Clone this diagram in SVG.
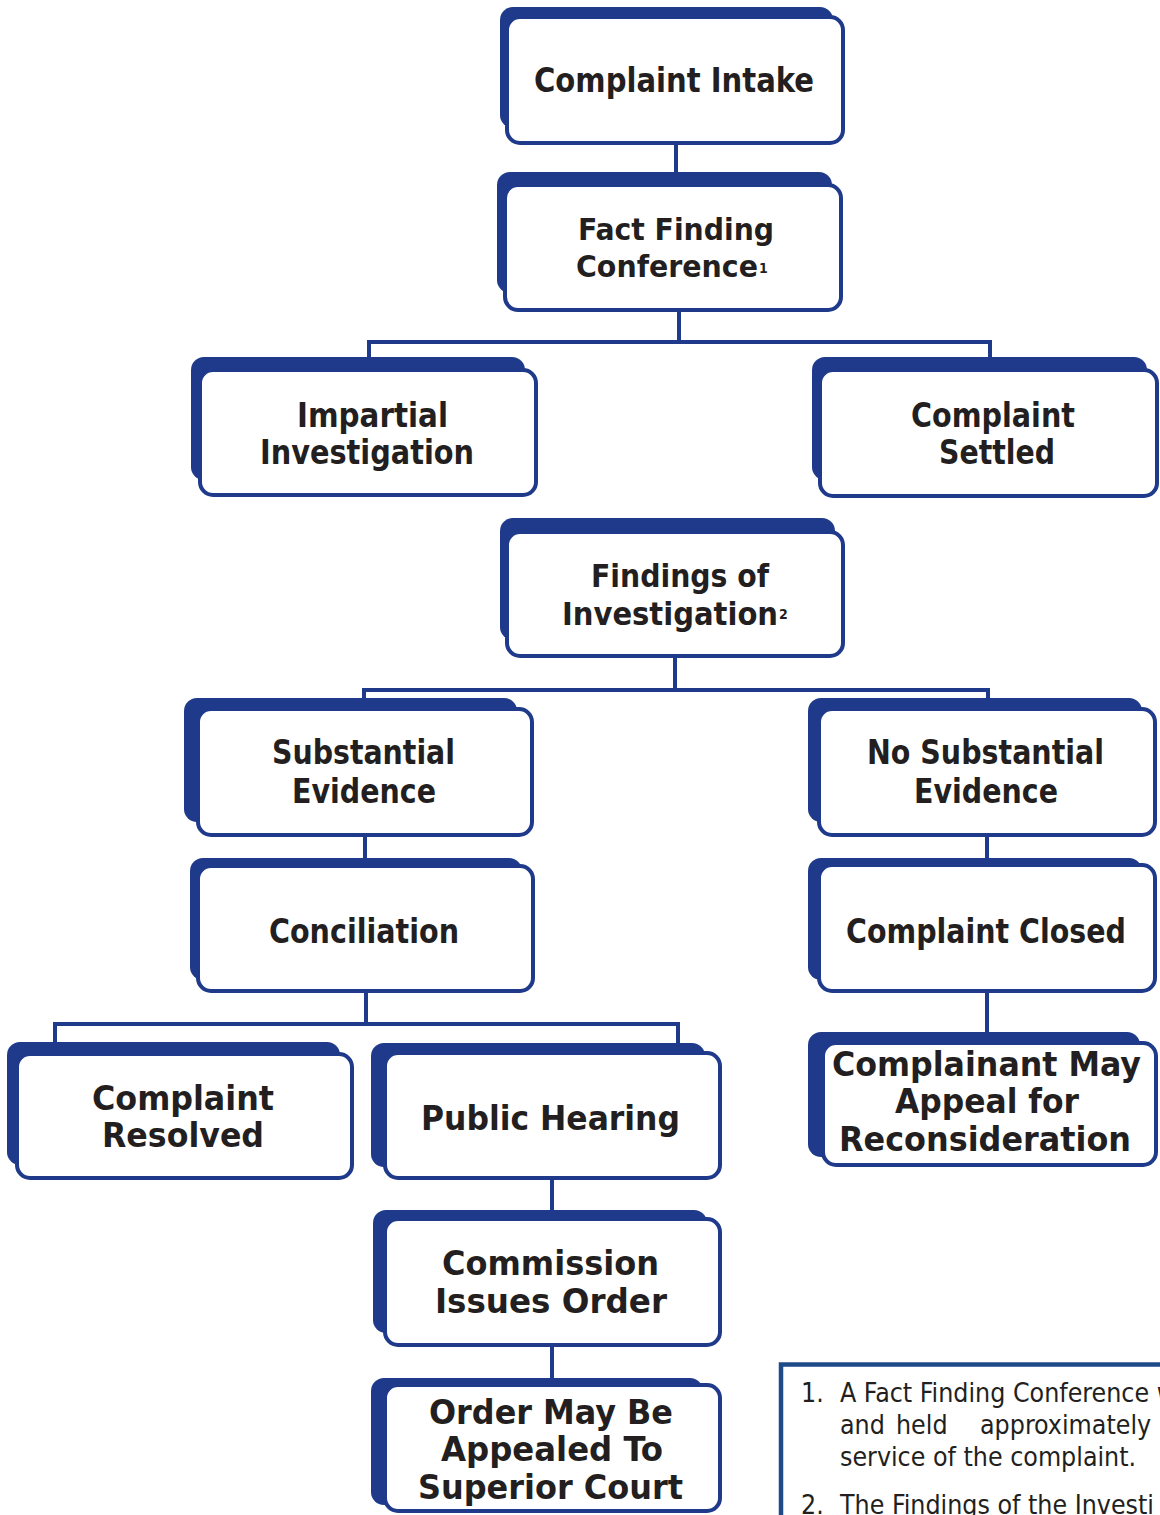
<svg xmlns="http://www.w3.org/2000/svg" width="1160" height="1515" viewBox="0 0 1160 1515">
<style>
.bk{fill:#1f3a8b}
.fr{fill:#fff;stroke:#1f3a8b;stroke-width:4}
.t{font-family:"DejaVu Sans Condensed","DejaVu Sans",sans-serif;font-weight:bold;font-size:33px;fill:#231f20}
.sup{font-family:"DejaVu Sans Condensed","DejaVu Sans",sans-serif;font-weight:bold;font-size:14px;fill:#231f20}
.c{fill:none;stroke:#1f3a8b;stroke-width:4}
.fn{font-family:"DejaVu Sans Condensed","DejaVu Sans",sans-serif;font-size:26.5px;fill:#231f20}
</style>
<rect width="1160" height="1515" fill="#fff"/>
<g id="connectors" class="c">
<path d="M676,143 V186"/>
<path d="M679,310 V342"/>
<path d="M369,362 V342 H990 V362"/>
<path d="M675,656 V690"/>
<path d="M364,702 V690 H988 V702"/>
<path d="M365,835 V866"/>
<path d="M987,835 V866"/>
<path d="M366,991 V1024"/>
<path d="M55,1046 V1024 H678 V1046"/>
<path d="M987,991 V1036"/>
<path d="M552,1178 V1220"/>
<path d="M552,1345 V1386"/>
</g>
<g id="complaint-intake">
<rect class="bk" x="500" y="7" width="333" height="121" rx="13"/>
<rect class="fr" x="507" y="17" width="336" height="126" rx="13"/>
<text class="t" x="534" y="92" textLength="280" lengthAdjust="spacingAndGlyphs">Complaint Intake</text>
</g>
<g id="fact-finding-conference">
<rect class="bk" x="497" y="172" width="335" height="121" rx="13"/>
<rect class="fr" x="505" y="185" width="336" height="125" rx="13"/>
<text class="t" style="font-size:31px" x="578" y="240" textLength="196" lengthAdjust="spacingAndGlyphs">Fact Finding</text>
<text class="t" style="font-size:31px" x="576" y="277" textLength="182" lengthAdjust="spacingAndGlyphs">Conference</text>
<text class="sup" x="759" y="273">1</text>
</g>
<g id="impartial-investigation">
<rect class="bk" x="191" y="357" width="334" height="123" rx="13"/>
<rect class="fr" x="200" y="370" width="336" height="125" rx="13"/>
<text class="t" x="297" y="427" textLength="151" lengthAdjust="spacingAndGlyphs">Impartial</text>
<text class="t" x="260" y="464" textLength="214" lengthAdjust="spacingAndGlyphs">Investigation</text>
</g>
<g id="complaint-settled">
<rect class="bk" x="812" y="357" width="335" height="123" rx="13"/>
<rect class="fr" x="820" y="370" width="337" height="126" rx="13"/>
<text class="t" x="911" y="427" textLength="164" lengthAdjust="spacingAndGlyphs">Complaint</text>
<text class="t" x="939" y="464" textLength="116" lengthAdjust="spacingAndGlyphs">Settled</text>
</g>
<g id="findings-of-investigation">
<rect class="bk" x="500" y="518" width="335" height="122" rx="13"/>
<rect class="fr" x="507" y="532" width="336" height="124" rx="13"/>
<text class="t" style="font-size:32px" x="591" y="587" textLength="178" lengthAdjust="spacingAndGlyphs">Findings of</text>
<text class="t" style="font-size:32px" x="562" y="625" textLength="216" lengthAdjust="spacingAndGlyphs">Investigation</text>
<text class="sup" x="779" y="619">2</text>
</g>
<g id="substantial-evidence">
<rect class="bk" x="184" y="698" width="333" height="124" rx="13"/>
<rect class="fr" x="198" y="709" width="334" height="126" rx="13"/>
<text class="t" x="272" y="764" textLength="183" lengthAdjust="spacingAndGlyphs">Substantial</text>
<text class="t" x="292" y="803" textLength="144" lengthAdjust="spacingAndGlyphs">Evidence</text>
</g>
<g id="no-substantial-evidence">
<rect class="bk" x="808" y="698" width="334" height="124" rx="13"/>
<rect class="fr" x="819" y="709" width="336" height="126" rx="13"/>
<text class="t" x="867" y="764" textLength="237" lengthAdjust="spacingAndGlyphs">No Substantial</text>
<text class="t" x="914" y="803" textLength="144" lengthAdjust="spacingAndGlyphs">Evidence</text>
</g>
<g id="conciliation">
<rect class="bk" x="190" y="858" width="332" height="122" rx="13"/>
<rect class="fr" x="198" y="866" width="335" height="125" rx="13"/>
<text class="t" x="269" y="943" textLength="190" lengthAdjust="spacingAndGlyphs">Conciliation</text>
</g>
<g id="complaint-closed">
<rect class="bk" x="808" y="858" width="334" height="122" rx="13"/>
<rect class="fr" x="819" y="865" width="336" height="126" rx="13"/>
<text class="t" x="846" y="943" textLength="280" lengthAdjust="spacingAndGlyphs">Complaint Closed</text>
</g>
<g id="complaint-resolved">
<rect class="bk" x="7" y="1042" width="333" height="123" rx="13"/>
<rect class="fr" x="17" y="1054" width="335" height="124" rx="13"/>
<text class="t" style="font-size:34px" x="92" y="1110" textLength="182" lengthAdjust="spacingAndGlyphs">Complaint</text>
<text class="t" style="font-size:34px" x="102" y="1147" textLength="162" lengthAdjust="spacingAndGlyphs">Resolved</text>
</g>
<g id="public-hearing">
<rect class="bk" x="371" y="1043" width="334" height="124" rx="13"/>
<rect class="fr" x="385" y="1053" width="335" height="125" rx="13"/>
<text class="t" x="421" y="1130" textLength="259" lengthAdjust="spacingAndGlyphs">Public Hearing</text>
</g>
<g id="complainant-may-appeal">
<rect class="bk" x="808" y="1032" width="332" height="125" rx="13"/>
<rect class="fr" x="823" y="1043" width="333" height="122" rx="13"/>
<text class="t" x="832" y="1076" textLength="309" lengthAdjust="spacingAndGlyphs">Complainant May</text>
<text class="t" x="895" y="1113" textLength="184" lengthAdjust="spacingAndGlyphs">Appeal for</text>
<text class="t" x="839" y="1151" textLength="292" lengthAdjust="spacingAndGlyphs">Reconsideration</text>
</g>
<g id="commission-issues-order">
<rect class="bk" x="373" y="1210" width="334" height="123" rx="13"/>
<rect class="fr" x="385" y="1219" width="335" height="126" rx="13"/>
<text class="t" x="442" y="1275" textLength="217" lengthAdjust="spacingAndGlyphs">Commission</text>
<text class="t" x="435" y="1313" textLength="232" lengthAdjust="spacingAndGlyphs">Issues Order</text>
</g>
<g id="order-may-be-appealed">
<rect class="bk" x="371" y="1378" width="332" height="127" rx="13"/>
<rect class="fr" x="385" y="1385" width="335" height="126" rx="13"/>
<text class="t" x="429" y="1424" textLength="244" lengthAdjust="spacingAndGlyphs">Order May Be</text>
<text class="t" x="441" y="1461" textLength="222" lengthAdjust="spacingAndGlyphs">Appealed To</text>
<text class="t" x="418" y="1499" textLength="265" lengthAdjust="spacingAndGlyphs">Superior Court</text>
</g>
<g id="footnotes">
<path d="M781,1520 V1364.5 H1170" fill="none" stroke="#1f4a88" stroke-width="4.5"/>
<text class="fn" x="801" y="1402">1.</text>
<text class="fn" x="840" y="1402">A Fact Finding Conference w</text>
<text class="fn" y="1434"><tspan x="840">and</tspan><tspan x="896">held</tspan><tspan x="980">approximately</tspan></text>
<text class="fn" x="840" y="1466">service of the complaint.</text>
<text class="fn" x="801" y="1514">2.</text>
<text class="fn" x="840" y="1514">The Findings of the Investi</text>
</g>
</svg>
